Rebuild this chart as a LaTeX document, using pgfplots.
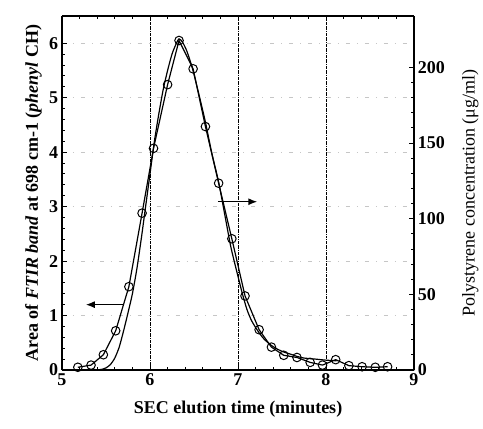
\documentclass[border=0pt]{standalone}
\usepackage{pgfplots}
\pgfplotsset{compat=1.18}
\usepackage{fontspec}
\setmainfont{Liberation Serif}
\usetikzlibrary{arrows.meta}
\begin{document}
\begin{tikzpicture}
\pgfplotsset{
  every axis/.append style={
    at={(0,0)}, anchor=south west,
    scale only axis, width=352bp, height=354bp,
    line width=1.2pt,
    tick style={line width=0.9pt, black},
    major tick length=5bp, minor tick length=3bp,
    tick label style={font=\fontsize{18bp}{20bp}\selectfont\bfseries},
    xmin=5, xmax=9,
  }
}
\begin{axis}[
  ymin=0, ymax=6.5,
  axis y line*=left,
  xtick={5,6,7,8,9},
  xticklabels={\textbf{5},\textbf{6},\textbf{7},\textbf{8},\textbf{9}},
  minor x tick num=4,
  ytick={0,1,2,3,4,5,6},
  yticklabels={\textbf{0},\textbf{1},\textbf{2},\textbf{3},\textbf{4},\textbf{5},\textbf{6}},
  minor y tick num=4,
  xtick pos=both,
  xlabel={SEC elution time (minutes)},
  ylabel={Area of \textit{FTIR band} at 698 cm-1 (\textit{phenyl} CH)},
  label style={font=\fontsize{18bp}{20bp}\selectfont\bfseries},
  xlabel style={yshift=-8bp},
  ylabel style={yshift=0bp},
  xmajorgrids, ymajorgrids,
  x grid style={black, line width=0.5pt, densely dash dot},
  y grid style={gray!45, line width=0.4pt, dash pattern=on 4pt off 7pt on 1pt off 7pt},
]
\addplot[black, line width=1.2pt, mark=o, mark size=4.3bp,
  mark options={fill=white, line width=1pt}] coordinates {
(5.18,0.05) (5.33,0.09) (5.47,0.28) (5.61,0.72) (5.76,1.53) (5.91,2.88)
(6.04,4.07) (6.20,5.24) (6.33,6.05) (6.49,5.53) (6.63,4.47) (6.78,3.43)
(6.93,2.41) (7.08,1.36) (7.24,0.74) (7.38,0.42) (7.52,0.27) (7.67,0.23)
(7.82,0.14) (7.96,0.09) (8.11,0.19) (8.26,0.08) (8.41,0.06) (8.56,0.05)
(8.70,0.06)
};
\draw[-{Latex[length=9bp,width=7bp]}, line width=1.4pt] (axis cs:5.69,1.2) -- (axis cs:5.27,1.2);
\draw[-{Latex[length=9bp,width=7bp]}, line width=1.4pt] (axis cs:6.77,3.09) -- (axis cs:7.22,3.09);
\end{axis}
\begin{axis}[
  ymin=0, ymax=234,
  axis y line*=right,
  axis x line=none,
  ytick={0,50,100,150,200},
  yticklabels={\textbf{0},\textbf{50},\textbf{100},\textbf{150},\textbf{200}},
  minor y tick num=4,
  ylabel={Polystyrene concentration (μg/ml)},
  ylabel style={font=\fontsize{18bp}{20bp}\selectfont, yshift=-10bp},
]
\addplot[black, line width=1.2pt, smooth, tension=0.4] coordinates {
(5.30,0) (5.40,0.1) (5.45,0.4) (5.50,1.4) (5.55,3.6) (5.60,7.9) (5.65,15.1)
(5.70,25.9) (5.75,37.8) (5.80,50.4) (5.85,66.6) (5.90,86.4) (5.95,108)
(6.00,129.6) (6.05,151.2) (6.10,169.2) (6.15,185.4) (6.20,198) (6.25,208.8)
(6.30,216) (6.33,218.9) (6.37,216.7) (6.42,210.6) (6.48,199.8) (6.55,183.6)
(6.63,163.8) (6.70,144) (6.78,124.2) (6.85,102.6) (6.92,81) (7.00,61.9)
(7.05,50.4) (7.10,40.3) (7.15,33.1) (7.20,28.1) (7.25,23.8) (7.30,20.2)
(7.38,16.2) (7.45,13.7) (7.52,11.9) (7.60,10.4) (7.67,9.0) (7.75,7.9)
(7.88,7.2) (8.00,6.5) (8.12,6.1)
};
\end{axis}
\pgfresetboundingbox
\path (-62bp,-59bp) rectangle (421bp,370bp);
\end{tikzpicture}
\end{document}
